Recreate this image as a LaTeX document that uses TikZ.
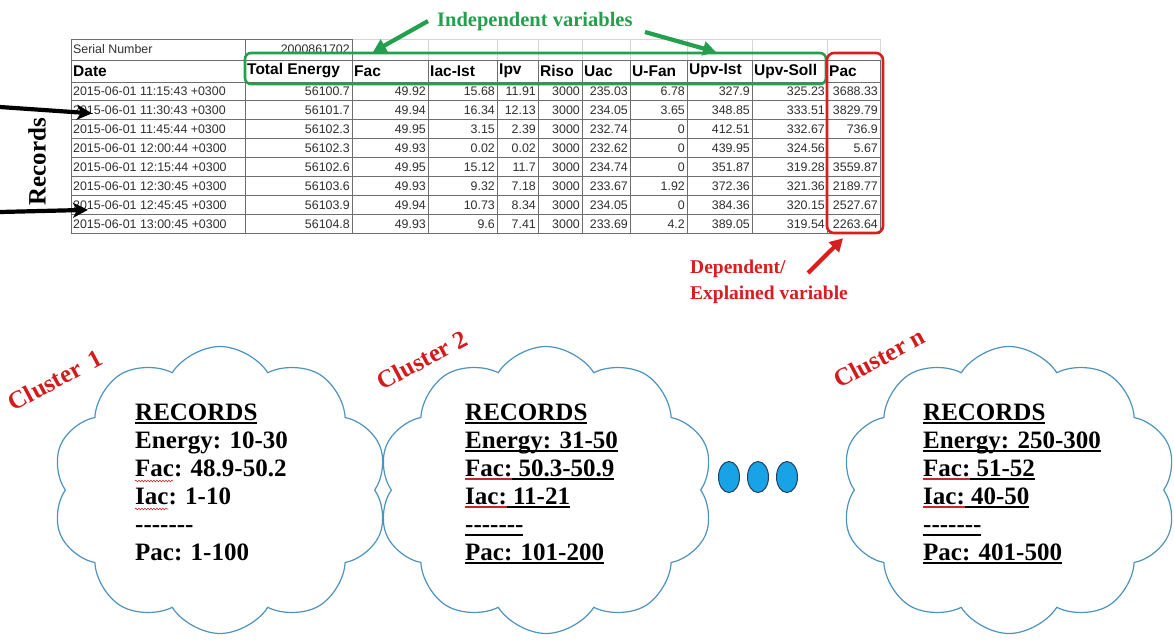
\documentclass[tikz,border=0pt]{standalone}
\usepackage{fontspec}
\setmainfont{Liberation Serif}[Ligatures=TeXOff]
\newfontfamily\arial{Liberation Sans}
\usetikzlibrary{shapes.symbols,shapes.geometric,arrows.meta,decorations.pathmorphing,calc}
\definecolor{gridc}{HTML}{6E6E6E}
\definecolor{gridl}{HTML}{D6D6D6}
\definecolor{cellt}{HTML}{2F2F2F}
\definecolor{indgreen}{HTML}{23A04E}
\definecolor{depred}{HTML}{D81E1E}
\definecolor{clred}{HTML}{D41A1A}
\definecolor{cloudc}{HTML}{4D93BD}
\definecolor{dotfill}{HTML}{17A3E6}
\definecolor{dotline}{HTML}{22405E}
\definecolor{spellred}{HTML}{C0282C}
\newsavebox\ulbox
\newcommand\ulin[2][black]{\sbox\ulbox{#2}\rlap{\color{#1}\rule[-3.5pt]{\wd\ulbox}{1.6pt}}\usebox\ulbox}
\newcommand\drow[3]{%
  \node[cell,anchor=west] (r#1c0) at (73,{82+18.9*(#1-0.5)}) {2015-06-01 #2 +0300};
  \foreach \vv [count=\cc] in {#3}{%
    \pgfmathsetmacro\xr{{352,428,497,538,582,630,687,752,827,880}[\cc-1]}%
    \node[cell,anchor=east] (r#1c\cc) at (\xr-2,{82+18.9*(#1-0.5)}) {\vv};
  }%
}
\begin{document}
\begin{tikzpicture}[x=1pt,y=-1pt,
  cell/.style={inner sep=0pt,font=\arial\fontsize{12.4}{14}\selectfont,text=cellt},
  head/.style={inner sep=0pt,font=\arial\bfseries\fontsize{15.5}{17}\selectfont,anchor=west},
  grid/.style={draw=gridc,line width=1pt},
  lgrid/.style={draw=gridl,line width=0.8pt},
  cltext/.style={inner sep=0pt,anchor=base west,font=\bfseries\fontsize{25}{28}\selectfont},
  cllabel/.style={inner sep=0pt,font=\bfseries\fontsize{25}{28}\selectfont,text=clred,rotate=28},
  cloudsh/.style={cloud,cloud puffs=10,cloud puff arc=115,cloud ignores aspect,draw=cloudc,line width=1.2pt,minimum width=336,minimum height=287,inner sep=0pt},
  dotsh/.style={ellipse,fill=dotfill,draw=dotline,line width=1pt,minimum width=21,minimum height=31,inner sep=0pt},
  garrow/.style={draw=indgreen,line width=4.2pt,-{Triangle[length=13pt,width=14pt]}},
  rarrow/.style={draw=depred,line width=4.2pt,-{Triangle[length=13pt,width=14pt]}},
  barrow/.style={draw=black,line width=4.2pt,-{Stealth[length=15pt,width=15pt,inset=4pt]}},
  squig/.style={draw=spellred,line width=0.6pt,decorate,decoration={snake,amplitude=0.8pt,segment length=3pt}}]
\useasboundingbox (0,0) rectangle (1174,641);
\fill[white] (0,0) rectangle (1174,641);
% ---- table grid
\draw[lgrid] (352,39) -- (880,39);
\foreach \x in {428,497,538,582,630,687,752,827,880} \draw[lgrid] (\x,39) -- (\x,60);
\draw[grid] (71,39) rectangle (352,60);
\draw[grid] (245,39) -- (245,60);
\foreach \x in {71,245,352,428,497,538,582,630,687,752,827,880} \draw[grid] (\x,60) -- (\x,233.2);
\draw[grid] (71,60) -- (880,60);
\foreach \i in {0,...,8} \draw[grid] (71,{82+18.9*\i}) -- (880,{82+18.9*\i});
% ---- table text
\node[cell,anchor=west] (serial) at (73,49.5) {Serial Number};
\node[cell,anchor=east] (serialno) at (350,49.5) {2000861702};
\foreach \x/\tt [count=\cc] in {73/Date,247/Total Energy,354/Fac,430/Iac-Ist,499/Ipv,540/Riso,584/Uac,632/U-Fan,689/Upv-Ist,754/Upv-Soll,829/Pac}
  \node[head] (h\cc) at (\x,71) {\tt};
\drow{1}{11:15:43}{56100.7,49.92,15.68,11.91,3000,235.03,6.78,327.9,325.23,3688.33}
\drow{2}{11:30:43}{56101.7,49.94,16.34,12.13,3000,234.05,3.65,348.85,333.51,3829.79}
\drow{3}{11:45:44}{56102.3,49.95,3.15,2.39,3000,232.74,0,412.51,332.67,736.9}
\drow{4}{12:00:44}{56102.3,49.93,0.02,0.02,3000,232.62,0,439.95,324.56,5.67}
\drow{5}{12:15:44}{56102.6,49.95,15.12,11.7,3000,234.74,0,351.87,319.28,3559.87}
\drow{6}{12:30:45}{56103.6,49.93,9.32,7.18,3000,233.67,1.92,372.36,321.36,2189.77}
\drow{7}{12:45:45}{56103.9,49.94,10.73,8.34,3000,234.05,0,384.36,320.15,2527.67}
\drow{8}{13:00:45}{56104.8,49.93,9.6,7.41,3000,233.69,4.2,389.05,319.54,2263.64}
% ---- highlight boxes
\node[draw=indgreen,line width=2.6pt,rounded corners=6pt,minimum width=581,minimum height=31,inner sep=0pt] (indbox) at (535.5,68.5) {};
\node[draw=depred,line width=2.6pt,rounded corners=7pt,minimum width=56,minimum height=180,inner sep=0pt] (pacbox) at (855,143) {};
% ---- annotations
\node[inner sep=0pt,anchor=base west,font=\bfseries\fontsize{20.5}{22}\selectfont,text=indgreen] (indep) at (437,26) {Independent variables};
\coordinate (gt1) at (373,52);
\coordinate (gs2) at (645,32);
\coordinate (gt2) at (716,52);
\draw[garrow] ([xshift=-9pt]indep.west) -- (gt1);
\draw[garrow] (gs2) -- (gt2);
\node[inner sep=0pt,anchor=base west,font=\bfseries\fontsize{19.5}{22}\selectfont,text=depred] (dep1) at (690,273) {Dependent/};
\node[inner sep=0pt,anchor=base west,font=\bfseries\fontsize{19.5}{22}\selectfont,text=depred] (dep2) at (690,299) {Explained variable};
\coordinate (rs) at (808,273);
\draw[rarrow] (rs) -- ([xshift=-12pt,yshift=-4pt]pacbox.south);
\node[inner sep=0pt,rotate=90,font=\bfseries\fontsize{25}{27}\selectfont] (records) at (37,162) {Records};
\coordinate (ra1s) at (0,107);
\coordinate (ra2s) at (0,212);
\draw[barrow] (ra1s) -- ([xshift=19pt,yshift=-3pt]r2c0.west);
\draw[barrow] (ra2s) -- ([xshift=15pt,yshift=-5pt]r7c0.west);
% ---- clouds
\node[cloudsh] (cl1) at (220,490) {};
\node[cloudsh] (cl2) at (546,490) {};
\node[cloudsh] (cl3) at (1009,490) {};
\node[cllabel] (lab1) at (55,380) {Cluster\ \,1};
\node[cllabel] (lab2) at (422,360) {Cluster 2};
\node[cllabel] (lab3) at (879,358) {Cluster n};
\foreach \txt [count=\i] in {\ulin{RECORDS},Energy: 10-30,Fac: 48.9-50.2,Iac: 1-10,-------,Pac: 1-100}
  \node[cltext] (c1t\i) at (135,{420+28*(\i-1)}) {\txt};
\foreach \txt [count=\i] in {\ulin{RECORDS},\ulin{Energy: 31-50},\ulin[spellred]{Fac:}\ulin{ 50.3-50.9},\ulin[spellred]{Iac:}\ulin{ 11-21},\ulin{-------},\ulin{Pac: 101-200}}
  \node[cltext] (c2t\i) at (465,{420+28*(\i-1)}) {\txt};
\foreach \txt [count=\i] in {\ulin{RECORDS},\ulin{Energy: 250-300},\ulin[spellred]{Fac:}\ulin{ 51-52},\ulin[spellred]{Iac:}\ulin{ 40-50},\ulin{-------},\ulin{Pac: 401-500}}
  \node[cltext] (c3t\i) at (923,{420+28*(\i-1)}) {\txt};
\draw[squig] ([yshift=-5pt]c1t3.base west) -- ++(38,0);
\draw[squig] ([yshift=-5pt]c1t4.base west) -- ++(33,0);
% ---- ellipsis dots
\node[dotsh] (dot1) at (729,477) {};
\node[dotsh] (dot2) at (758,477) {};
\node[dotsh] (dot3) at (787,477) {};
\end{tikzpicture}
\end{document}
